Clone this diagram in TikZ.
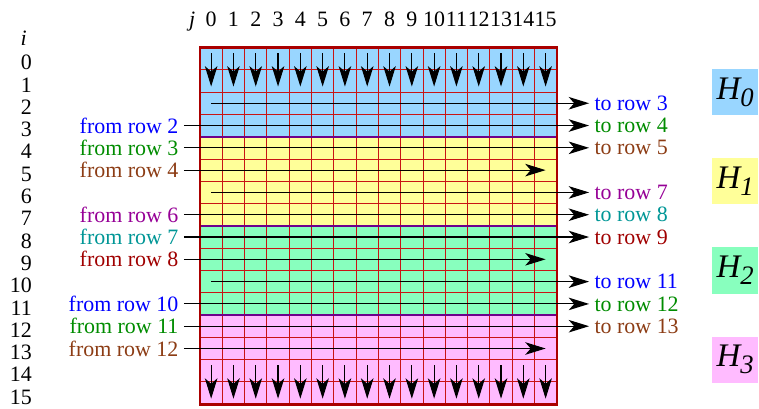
\documentclass[tikz,border=0pt]{standalone}
\usepackage{fontspec}
\setmainfont{Liberation Serif}
\usetikzlibrary{arrows.meta}
\definecolor{bandA}{RGB}{153,214,255}
\definecolor{bandB}{RGB}{255,255,153}
\definecolor{bandC}{RGB}{136,255,190}
\definecolor{bandD}{RGB}{255,187,255}
\definecolor{cellred}{RGB}{200,20,20}
\definecolor{framered}{RGB}{170,0,0}
\definecolor{seampurple}{RGB}{110,0,140}
\definecolor{rowA}{RGB}{0,0,255}
\definecolor{rowB}{RGB}{0,140,0}
\definecolor{rowC}{RGB}{140,60,20}
\definecolor{rowD}{RGB}{150,0,150}
\definecolor{rowE}{RGB}{0,150,150}
\definecolor{rowF}{RGB}{160,0,0}
\tikzset{
	sweep/.style={>={Stealth[length=13pt,width=8pt,inset=3.5pt]},x=0.5cm,y=0.5cm,
		font=\fontsize{14}{16}\selectfont},
	cellgrid/.style={draw=cellred,line width=0.6pt},
	seam/.style={draw=seampurple,line width=1.4pt},
	outline/.style={draw=framered,line width=1.6pt},
	move/.style={->,line width=0.7pt,black},
	index/.style={inner sep=0pt,anchor=base},
	srclabel/.style={anchor=east,text=#1},
	dstlabel/.style={anchor=west,text=#1},
	block/.style={fill=#1,minimum size=29.5pt,inner sep=0pt,
		font=\fontsize{21}{21}\selectfont\itshape}
}

\begin{document}
\begin{tikzpicture}[sweep]
	\useasboundingbox (-8.97,2.13) rectangle (25.07,-16.21);

	% bands and their H labels
	\foreach \b/\c in {0/bandA,1/bandB,2/bandC,3/bandD}{
		\fill[\c] (0,-4*\b) rectangle (16,-4*\b-4);
		\node[block=\c] (h\b) at (24,-4*\b-2) {H\raisebox{-0.22em}{\fontsize{17}{17}\selectfont\b}};
	}
	\draw[cellgrid,step=1] (0,-16) grid (16,0);
	\foreach \y in {4,8,12}
		\draw[seam] (0,-\y) -- (16,-\y);
	\draw[outline] (0,0) rectangle (16,-16);

	% indices
	\node[index,anchor=base east] (jlab) at (-0.2,0.96) {\textit{j}};
	\foreach \j in {0,...,15}
		\node[index] (col\j) at (\j+0.5,0.96) {\j};
	\node[index] (ilab) at (-7.91,0.1) {\textit{i}};
	\foreach \i in {0,...,15}
		\node[index,anchor=base east] (row\i) at (-7.53,-\i-1) {\i};

	% vertical moves, top and bottom
	\foreach \j in {0,...,15}{
		\coordinate (t\j) at (\j+0.5,-0.25);
		\coordinate (u\j) at (\j+0.5,-1.75);
		\coordinate (v\j) at (\j+0.5,-14.25);
		\coordinate (w\j) at (\j+0.5,-15.75);
		\path[move] (t\j) edge (u\j) (v\j) edge (w\j);
	}

	% horizontal moves, four rows per band
	\foreach \b/\ca/\cb/\cc in {0/rowA/rowB/rowC,1/rowD/rowE/rowF,2/rowA/rowB/rowC}{
		\pgfmathtruncatemacro{\s}{4*\b+2}
		\pgfmathtruncatemacro{\sa}{\s+1}
		\pgfmathtruncatemacro{\sb}{\s+2}
		\pgfmathtruncatemacro{\sc}{\s+3}
		\coordinate (in\s) at (0.5,-\s-0.5);
		\node[dstlabel=\ca] (dst\s) at (17.45,-\s-0.5) {to row \sa};
		\node[srclabel=\ca] (src\sa) at (-0.72,-\sa-0.5) {from row \s};
		\node[dstlabel=\cb] (dst\sa) at (17.45,-\sa-0.5) {to row \sb};
		\node[srclabel=\cb] (src\sb) at (-0.72,-\sb-0.5) {from row \sa};
		\node[dstlabel=\cc] (dst\sb) at (17.45,-\sb-0.5) {to row \sc};
		\node[srclabel=\cc] (src\sc) at (-0.72,-\sc-0.5) {from row \sb};
		\coordinate (out\sc) at (15.5,-\sc-0.5);
		\path[move] (in\s) edge (dst\s.west);
		\path[move] (src\sa.east) edge (dst\sa.west);
		\path[move] (src\sb.east) edge (dst\sb.west);
		\path[move] (src\sc.east) edge (out\sc);
	}
\end{tikzpicture}
\end{document}
